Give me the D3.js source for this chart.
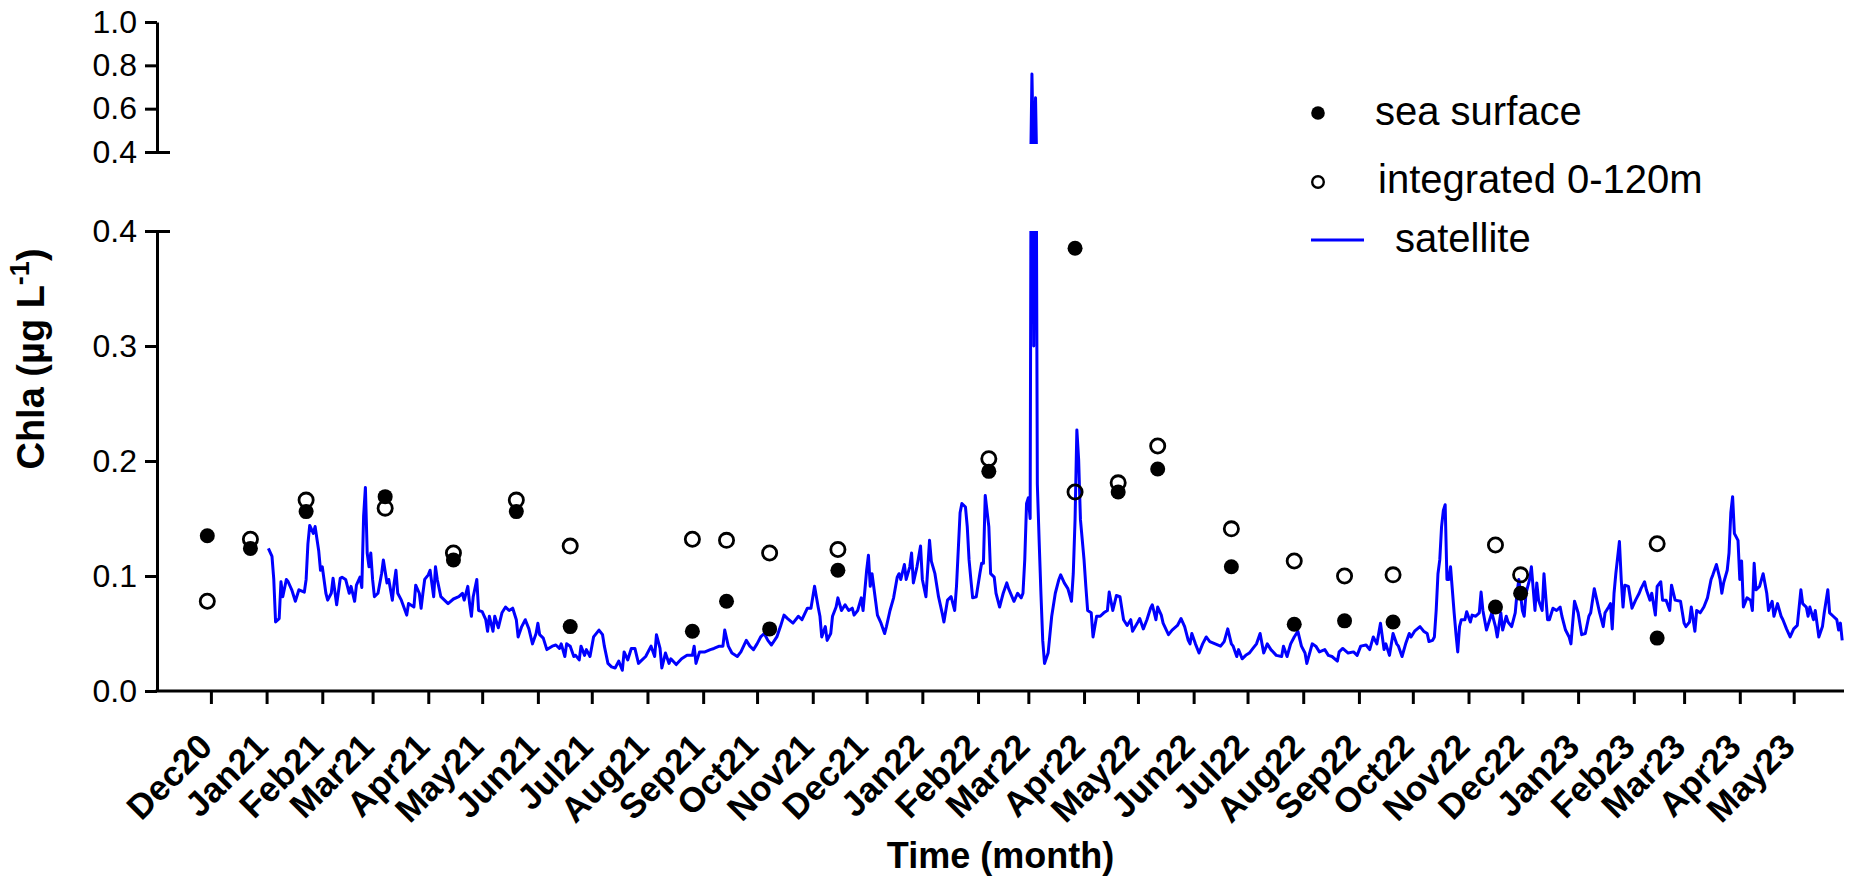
<!DOCTYPE html>
<html>
<head>
<meta charset="utf-8">
<script src="https://cdn.jsdelivr.net/npm/d3@7/dist/d3.min.js"></script>
<style>
  html, body { margin: 0; padding: 0; background: #ffffff; }
  svg { display: block; }
  text { font-family: "Liberation Sans", Arial, sans-serif; fill: #000; }
</style>
</head>
<body>
<script>
// ---------------- DATA ----------------
const monthLabels = ["Dec20","Jan21","Feb21","Mar21","Apr21","May21","Jun21","Jul21","Aug21","Sep21","Oct21","Nov21",
  "Dec21","Jan22","Feb22","Mar22","Apr22","May22","Jun22","Jul22","Aug22","Sep22","Oct22","Nov22",
  "Dec22","Jan23","Feb23","Mar23","Apr23","May23"];
const yTicksLow = [0.0, 0.1, 0.2, 0.3, 0.4];
const yTicksHigh = [0.4, 0.6, 0.8, 1.0];

// sampling dates (in situ)
const sampleDates = ["2020-11-29","2020-12-23","2021-01-23","2021-03-08","2021-04-15","2021-05-20","2021-06-19",
  "2021-08-26","2021-09-14","2021-10-08","2021-11-15","2022-02-07","2022-03-27","2022-04-20","2022-05-12",
  "2022-06-22","2022-07-27","2022-08-24","2022-09-20","2022-11-16","2022-11-30","2023-02-14"];
// sea surface Chla (µg/L)
const seaSurface = [0.135,0.124,0.156,0.169,0.114,0.156,0.056,0.052,0.078,0.054,0.105,0.191,0.385,0.173,0.193,
  0.108,0.058,0.061,0.060,0.073,0.085,0.046];
// integrated 0-120 m Chla (µg/L)
const integrated = [0.078,0.132,0.166,0.159,0.120,0.166,0.126,0.132,0.131,0.120,0.123,0.202,0.173,0.181,0.213,
  0.141,0.113,0.100,0.101,0.127,0.101,0.128];

// satellite: day offset since 2020-11-01 and Chla (µg/L)
const satStart = "2020-11-01";
const satDay = [62,64,65,66,68,69,70,72,73,75,77,79,82,83,84,85,87,88,90,91,92,94,95,97,98,100,102,103,105,107,108,110,111,113,114,115,116,117,118,119,120,121,123,125,126,128,129,131,132,133,134,136,139,140,143,144,146,147,148,149,151,152,154,155,156,158,160,162,165,168,170,171,173,174,175,176,178,179,181,183,184,185,187,188,190,192,194,196,198,200,201,203,205,207,209,211,212,213,215,217,220,222,224,225,227,228,230,232,233,235,236,238,239,241,243,246,248,249,251,253,255,257,259,260,262,264,266,268,270,272,275,277,278,280,281,283,285,286,289,292,295,298,299,300,302,305,308,310,313,315,316,318,320,323,325,328,330,332,334,336,338,340,342,345,347,349,351,354,357,359,362,364,366,368,369,370,372,373,375,376,378,379,381,383,385,387,388,390,392,393,395,396,397,398,400,401,403,405,406,408,410,412,413,414,416,417,419,420,421,423,425,426,428,430,431,433,435,437,438,440,442,444,445,447,448,450,451,452,453,454,456,458,459,460,461,463,464,466,467,469,470,471,473,474,477,479,481,482,483,484,485,486,487,488,489,490,491,492,493,494,496,498,500,502,503,505,507,509,510,511,512,513,514,516,517,518,520,521,523,525,527,529,530,532,534,536,538,540,542,543,546,547,549,551,553,554,556,557,559,560,563,565,568,570,572,574,575,576,578,580,582,584,586,589,592,594,596,598,599,601,602,604,606,608,610,612,614,616,618,620,623,626,627,629,631,633,635,637,639,640,643,645,647,650,652,654,657,658,660,663,666,668,670,673,675,677,679,681,683,684,686,688,690,691,693,695,697,698,700,703,705,707,708,710,711,712,713,714,715,716,717,718,719,720,722,723,724,725,726,728,729,731,732,734,736,737,738,740,742,743,745,746,748,749,751,752,754,756,757,758,760,761,762,764,765,767,768,769,771,772,774,775,777,779,781,782,784,786,787,789,791,793,795,797,798,800,801,803,805,806,808,809,810,811,812,814,815,816,817,819,821,823,825,826,828,829,831,832,834,835,837,838,840,842,843,845,848,850,851,853,854,856,857,859,861,863,865,866,868,870,871,872,874,875,876,877,878,880,881,882,883,885,887,888,889,890,892,894,896,897,899,900,902,904,905,907,909,911,913,915,916,918,919,920,922,923,925,927,928,930,931,933,935,936,937,938];
const satChl = [0.124,0.117,0.097,0.060,0.063,0.095,0.082,0.097,0.095,0.088,0.078,0.088,0.086,0.097,0.128,0.144,0.137,0.143,0.122,0.105,0.108,0.085,0.079,0.085,0.098,0.075,0.098,0.099,0.097,0.085,0.091,0.078,0.092,0.099,0.090,0.152,0.177,0.120,0.108,0.120,0.097,0.082,0.085,0.102,0.114,0.094,0.097,0.079,0.094,0.105,0.085,0.079,0.066,0.076,0.073,0.092,0.085,0.072,0.085,0.097,0.101,0.105,0.082,0.108,0.097,0.082,0.079,0.076,0.080,0.082,0.085,0.079,0.091,0.076,0.065,0.082,0.097,0.070,0.069,0.062,0.052,0.065,0.052,0.065,0.055,0.068,0.073,0.070,0.072,0.062,0.047,0.056,0.062,0.054,0.041,0.050,0.059,0.049,0.046,0.036,0.039,0.040,0.037,0.041,0.030,0.041,0.039,0.030,0.031,0.027,0.039,0.031,0.036,0.030,0.047,0.053,0.049,0.039,0.024,0.021,0.020,0.026,0.018,0.034,0.027,0.037,0.037,0.024,0.027,0.030,0.039,0.030,0.049,0.037,0.020,0.033,0.024,0.028,0.023,0.028,0.031,0.031,0.039,0.024,0.034,0.034,0.036,0.037,0.039,0.039,0.053,0.039,0.033,0.030,0.034,0.044,0.039,0.036,0.041,0.047,0.050,0.044,0.040,0.047,0.056,0.066,0.063,0.059,0.065,0.062,0.072,0.072,0.091,0.073,0.065,0.047,0.056,0.044,0.050,0.065,0.073,0.081,0.070,0.075,0.070,0.072,0.066,0.070,0.081,0.070,0.105,0.118,0.091,0.102,0.078,0.066,0.059,0.050,0.056,0.070,0.081,0.099,0.102,0.097,0.110,0.097,0.108,0.120,0.094,0.108,0.126,0.097,0.082,0.131,0.113,0.102,0.082,0.068,0.060,0.079,0.082,0.070,0.091,0.155,0.163,0.160,0.143,0.114,0.097,0.081,0.082,0.102,0.111,0.111,0.170,0.143,0.102,0.099,0.085,0.073,0.079,0.085,0.094,0.089,0.078,0.085,0.081,0.085,0.114,0.163,0.168,0.150,0.760,0.300,0.650,0.180,0.131,0.085,0.044,0.024,0.033,0.065,0.085,0.097,0.101,0.094,0.089,0.078,0.102,0.149,0.227,0.201,0.149,0.114,0.091,0.070,0.068,0.047,0.065,0.065,0.068,0.070,0.086,0.070,0.083,0.082,0.062,0.057,0.062,0.052,0.060,0.063,0.054,0.062,0.072,0.075,0.062,0.073,0.066,0.059,0.049,0.053,0.057,0.063,0.056,0.044,0.041,0.050,0.041,0.033,0.041,0.047,0.043,0.041,0.039,0.043,0.054,0.041,0.039,0.030,0.036,0.028,0.031,0.033,0.037,0.041,0.050,0.033,0.041,0.036,0.031,0.030,0.039,0.030,0.041,0.047,0.052,0.039,0.033,0.024,0.041,0.039,0.034,0.036,0.031,0.030,0.026,0.034,0.037,0.033,0.034,0.031,0.039,0.040,0.036,0.047,0.041,0.059,0.036,0.041,0.031,0.050,0.041,0.039,0.030,0.041,0.050,0.047,0.052,0.056,0.052,0.050,0.043,0.044,0.047,0.070,0.102,0.114,0.143,0.157,0.162,0.097,0.097,0.108,0.068,0.050,0.034,0.056,0.062,0.062,0.069,0.060,0.066,0.065,0.068,0.086,0.070,0.053,0.063,0.068,0.056,0.047,0.068,0.053,0.065,0.060,0.056,0.068,0.085,0.097,0.070,0.065,0.085,0.097,0.108,0.070,0.094,0.079,0.070,0.102,0.062,0.062,0.072,0.070,0.073,0.065,0.053,0.047,0.041,0.078,0.068,0.049,0.050,0.065,0.068,0.089,0.082,0.068,0.056,0.068,0.073,0.076,0.054,0.085,0.102,0.130,0.097,0.073,0.092,0.091,0.072,0.079,0.085,0.089,0.095,0.088,0.079,0.085,0.066,0.091,0.095,0.079,0.079,0.070,0.092,0.079,0.078,0.059,0.056,0.060,0.073,0.052,0.070,0.068,0.073,0.081,0.097,0.101,0.110,0.097,0.085,0.094,0.105,0.120,0.155,0.169,0.137,0.131,0.097,0.113,0.073,0.081,0.079,0.070,0.111,0.088,0.091,0.102,0.085,0.070,0.078,0.065,0.076,0.065,0.062,0.054,0.047,0.054,0.057,0.088,0.076,0.073,0.065,0.073,0.062,0.070,0.047,0.056,0.068,0.088,0.068,0.065,0.062,0.053,0.059,0.044];

const legendLabels = ["sea surface", "integrated 0-120m", "satellite"];

// ---------------- LAYOUT ----------------
const W = 1854, H = 886;
const L = 157, R = 1844, B = 691;
const lowTop = 231, upTop = 22, upBot = 152;
const AX = 3;

const parseISO = d3.timeParse("%Y-%m-%d");
const parseMon = d3.timeParse("%b%y");
const t0 = parseISO(satStart);

const x = d3.scaleTime().domain([parseISO("2020-11-01"), parseISO("2023-05-29")]).range([L, R]);
const yLow = d3.scaleLinear().domain([0, 0.4]).range([B, lowTop]);
const yHigh = d3.scaleLinear().domain([0.4, 1.0]).range([upBot, upTop]);

const sat = satDay.map((d, i) => ({ date: d3.timeDay.offset(t0, d), v: satChl[i] }));
const samples = sampleDates.map((d, i) => ({ date: parseISO(d), s: seaSurface[i], g: integrated[i] }));

const svg = d3.select("body").append("svg").attr("width", W).attr("height", H);

// clip paths
const defs = svg.append("defs");
defs.append("clipPath").attr("id", "clipLow").append("rect")
  .attr("x", L).attr("y", lowTop).attr("width", R - L + 5).attr("height", B - lowTop);
defs.append("clipPath").attr("id", "clipHigh").append("rect")
  .attr("x", L).attr("y", 0).attr("width", R - L + 5).attr("height", upBot - 8);

// satellite line (two segments of the broken axis)
const lineLow = d3.line().x(d => x(d.date)).y(d => yLow(d.v));
const lineHigh = d3.line().x(d => x(d.date)).y(d => yHigh(d.v));
svg.append("path").datum(sat).attr("clip-path", "url(#clipLow)")
  .attr("d", lineLow).attr("fill", "none").attr("stroke", "#0000ff").attr("stroke-width", 3).attr("stroke-linejoin", "round");
svg.append("path").datum(sat).attr("clip-path", "url(#clipHigh)")
  .attr("d", lineHigh).attr("fill", "none").attr("stroke", "#0000ff").attr("stroke-width", 3).attr("stroke-linejoin", "round");

// sample points
svg.append("g").selectAll("circle").data(samples).join("circle")
  .attr("cx", d => x(d.date)).attr("cy", d => yLow(d.s)).attr("r", 7.5).attr("fill", "#000");
svg.append("g").selectAll("circle").data(samples).join("circle")
  .attr("cx", d => x(d.date)).attr("cy", d => yLow(d.g)).attr("r", 7.1)
  .attr("fill", "none").attr("stroke", "#000").attr("stroke-width", 2.8);

// axes styling helper
function styleAxis(g) {
  g.selectAll("path.domain").attr("stroke", "#000").attr("stroke-width", AX);
  g.selectAll(".tick line").attr("stroke", "#000").attr("stroke-width", AX);
}

// lower y axis
const gyLow = svg.append("g").attr("transform", `translate(${L},0)`)
  .call(d3.axisLeft(yLow).tickValues(yTicksLow).tickFormat(d3.format(".1f")).tickSize(12).tickSizeOuter(0).tickPadding(8));
styleAxis(gyLow);
gyLow.selectAll(".tick text").attr("font-size", 32).attr("font-family", "Liberation Sans, Arial, sans-serif");
gyLow.selectAll(".tick").filter(d => d === 0.4).select("line").attr("x1", 13);

// upper y axis
const gyHigh = svg.append("g").attr("transform", `translate(${L},0)`)
  .call(d3.axisLeft(yHigh).tickValues(yTicksHigh).tickFormat(d3.format(".1f")).tickSize(12).tickSizeOuter(0).tickPadding(8));
styleAxis(gyHigh);
gyHigh.selectAll(".tick text").attr("font-size", 32).attr("font-family", "Liberation Sans, Arial, sans-serif");
gyHigh.selectAll(".tick").filter(d => d === 0.4).select("line").attr("x1", 13);

// x axis
const monthDates = monthLabels.map(parseMon);
const gx = svg.append("g").attr("transform", `translate(0,${B})`)
  .call(d3.axisBottom(x).tickValues(monthDates).tickFormat(d3.timeFormat("%b%y")).tickSize(13).tickSizeOuter(0));
styleAxis(gx);
gx.select("path.domain").attr("d", `M${L - 1.5},0H${R}`);
gx.selectAll(".tick text")
  .attr("font-size", 35).attr("font-weight", "bold").attr("font-family", "Liberation Sans, Arial, sans-serif")
  .attr("text-anchor", "end").attr("y", 0).attr("dy", "0.72em")
  .attr("transform", "translate(-15,40) rotate(-45)");

// axis titles
svg.append("text").attr("x", (L + R) / 2).attr("y", 868).attr("text-anchor", "middle")
  .attr("font-size", 36).attr("font-weight", "bold").text("Time (month)");

const yt = svg.append("text").attr("transform", `translate(44,359) rotate(-90)`)
  .attr("text-anchor", "middle").attr("font-size", 38).attr("font-weight", "bold");
yt.append("tspan").text("Chla (µg L");
yt.append("tspan").attr("font-size", 27).attr("dy", -15).text("-1");
yt.append("tspan").attr("dy", 15).text(")");

// legend
const lg = svg.append("g");
lg.append("circle").attr("cx", 1318).attr("cy", 113).attr("r", 6.8).attr("fill", "#000");
lg.append("circle").attr("cx", 1318).attr("cy", 182).attr("r", 5.8).attr("fill", "none").attr("stroke", "#000").attr("stroke-width", 2.4);
lg.append("line").attr("x1", 1311).attr("x2", 1364).attr("y1", 240).attr("y2", 240).attr("stroke", "#0000ff").attr("stroke-width", 2.8);
const legendPos = [[1375, 125], [1378, 193], [1395, 252]];
lg.selectAll("text").data(legendLabels).join("text")
  .attr("x", (d, i) => legendPos[i][0]).attr("y", (d, i) => legendPos[i][1])
  .attr("font-size", 40).text(d => d);
</script>
</body>
</html>
